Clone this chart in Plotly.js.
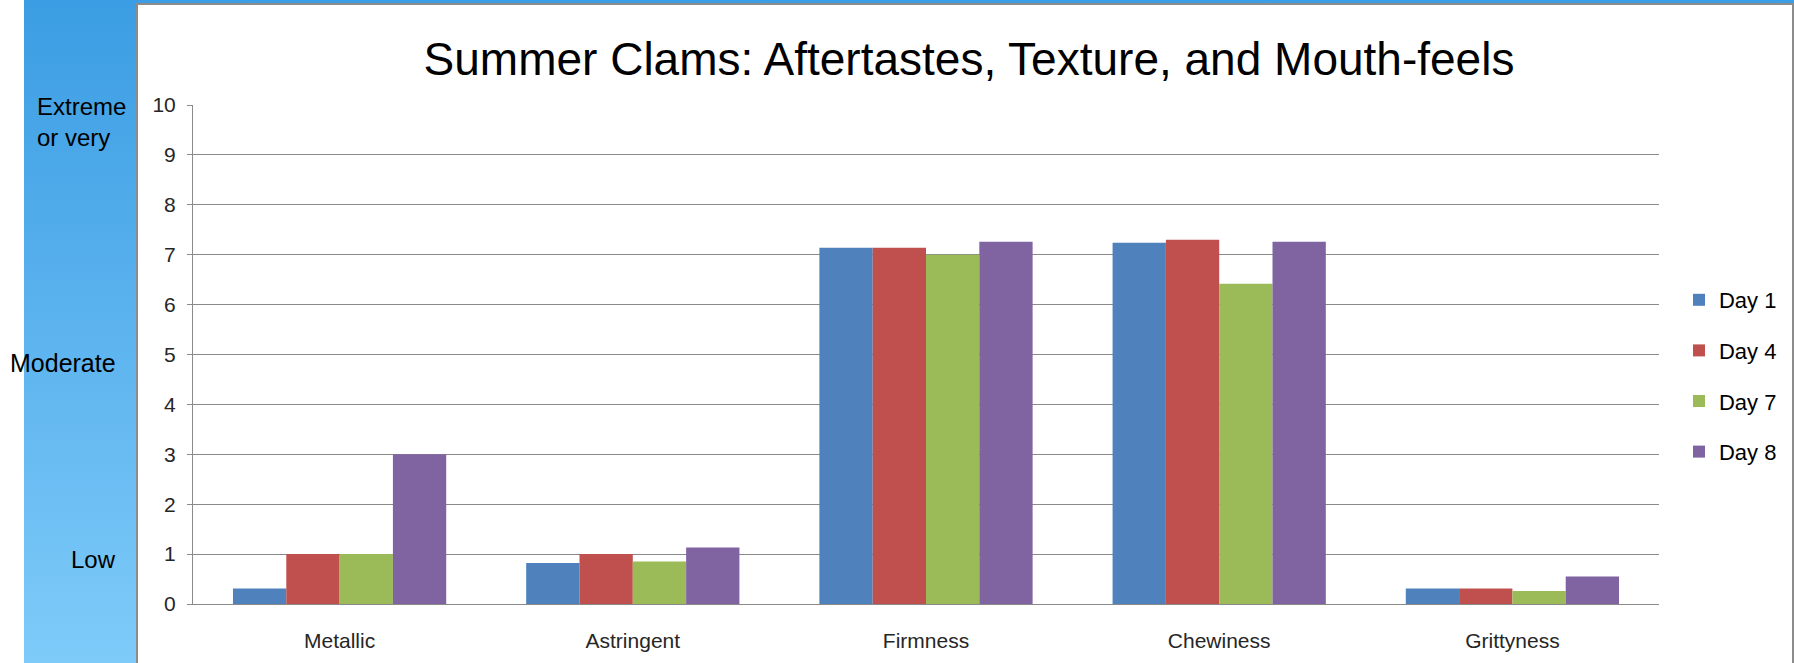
<!DOCTYPE html>
<html>
<head>
<meta charset="utf-8">
<script src="https://cdn.plot.ly/plotly-3.0.1.min.js"></script>
<style>
  html, body { margin:0; padding:0; width:1794px; height:663px; overflow:hidden; background:#ffffff; }
  #bg { position:absolute; left:24px; top:0; width:1770px; height:663px;
        background: linear-gradient(to bottom, #3b9de3 0%, #5cb3ee 50%, #7ecbf9 100%); }
  #box { position:absolute; left:136px; top:3px; width:1654px; height:700px;
         background:#ffffff; border:2px solid #8c8c8c; }
  #chart { position:absolute; left:0; top:0; width:1794px; height:663px; }
</style>
</head>
<body>
<div id="bg"></div>
<div id="box"></div>
<div id="chart"></div>
<script>
const categories = ["Metallic", "Astringent", "Firmness", "Chewiness", "Grittyness"];
const seriesNames = ["Day 1", "Day 4", "Day 7", "Day 8"];
const day1 = [0.31, 0.82, 7.14, 7.24, 0.31];
const day4 = [1.0, 1.0, 7.14, 7.30, 0.31];
const day7 = [1.0, 0.85, 7.0, 6.42, 0.26];
const day8 = [3.0, 1.13, 7.26, 7.26, 0.55];
const colors = ["#4F81BD", "#C0504D", "#9BBB59", "#8064A2"];
const yTicks = [0,1,2,3,4,5,6,7,8,9,10];
const scaleLabels = ["Extreme<br>or very", "Moderate", "Low"];

const W = 1794, H = 663;
const L = 193, R = 1661, T = 105, B = 604;
const px = x => (x - L) / (R - L);
const py = y => (B - y) / (B - T);

const FONT = "'Liberation Sans', Arial, sans-serif";
const allVals = [day1, day4, day7, day8];
const traces = allVals.map((vals, i) => ({
  type: "bar",
  name: seriesNames[i],
  x: categories,
  y: vals,
  legendgroup: "g" + i,
  marker: { color: colors[i], line: { width: 0 } },
  hoverinfo: "x+y+name"
}));

const layout = {
  width: W, height: H,
  paper_bgcolor: "rgba(0,0,0,0)",
  plot_bgcolor: "rgba(0,0,0,0)",
  margin: { l: L, r: W - R, t: T, b: H - B, pad: 0 },
  barmode: "group",
  bargap: 1.5 / 5.5,
  bargroupgap: 0,
  showlegend: true,
  font: { family: FONT, color: "#262626" },
  title: {
    text: "Summer Clams: Aftertastes, Texture, and Mouth-feels",
    font: { family: FONT, size: 46, color: "#000000" },
    x: 969 / W, xanchor: "center", xref: "container",
    y: 1 - 59 / H, yanchor: "middle", yref: "container"
  },
  xaxis: {
    type: "category",
    showgrid: false,
    showline: true, linecolor: "#8a8a8a", linewidth: 1,
    ticks: "", tickfont: { family: FONT, size: 21, color: "#262626" },
    ticklabelstandoff: 18,
    fixedrange: true
  },
  yaxis: {
    range: [0, 10],
    tickvals: yTicks,
    ticktext: yTicks.map(String),
    showgrid: true, gridcolor: "#8a8a8a", gridwidth: 1,
    showline: true, linecolor: "#8a8a8a", linewidth: 1,
    ticks: "outside", ticklen: 5, tickcolor: "#8a8a8a",
    tickfont: { family: FONT, size: 21, color: "#262626" },
    ticklabelstandoff: 7,
    zeroline: false,
    fixedrange: true
  },
  legend: {
    x: px(1681), xanchor: "left",
    y: py(376), yanchor: "middle",
    orientation: "v",
    font: { family: FONT, size: 22, color: "#000000" },
    tracegroupgap: 19,
    bgcolor: "rgba(0,0,0,0)",
    itemclick: false, itemdoubleclick: false
  },
  annotations: [
    { text: scaleLabels[0], xref: "paper", yref: "paper", x: px(35), y: py(122),
      xanchor: "left", yanchor: "middle", align: "left", showarrow: false,
      font: { family: FONT, size: 24, color: "#000000" } },
    { text: scaleLabels[1], xref: "paper", yref: "paper", x: px(8), y: py(363),
      xanchor: "left", yanchor: "middle", align: "left", showarrow: false,
      font: { family: FONT, size: 25, color: "#000000" } },
    { text: scaleLabels[2], xref: "paper", yref: "paper", x: px(69), y: py(559),
      xanchor: "left", yanchor: "middle", align: "left", showarrow: false,
      font: { family: FONT, size: 24, color: "#000000" } }
  ]
};

Plotly.newPlot("chart", traces, layout, { displayModeBar: false, staticPlot: true });
</script>
</body>
</html>
